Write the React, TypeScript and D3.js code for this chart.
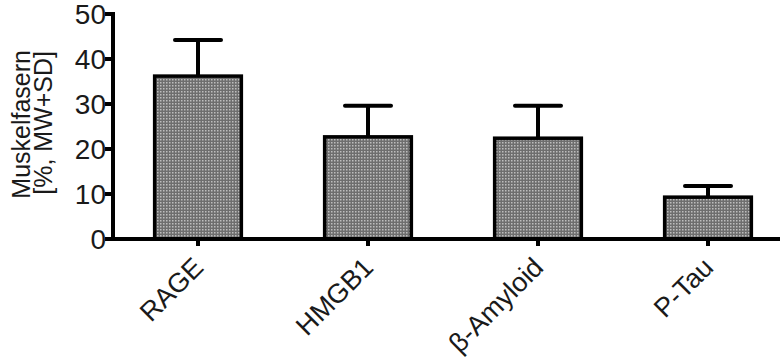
import React from "react";
import * as d3 from "d3";

const categories = ["RAGE", "HMGB1", "β-Amyloid", "P-Tau"];
const means = [36.2, 22.7, 22.4, 9.3];
const sds = [8.0, 6.9, 7.2, 2.5];
const yTicks = [0, 10, 20, 30, 40, 50];

const FONT = "'Liberation Sans', Arial, sans-serif";

export default function App() {
  const width = 780;
  const height = 358;

  const y = d3.scaleLinear().domain([0, 50]).range([239, 14]);
  const x = d3
    .scaleBand<string>()
    .domain(categories)
    .range([113, 793])
    .paddingInner(0.49)
    .paddingOuter(0.245);

  const axisX = 113;
  const axisY = y(0);

  return (
    <svg
      width={width}
      height={height}
      style={{ position: "absolute", left: 0, top: 0, background: "#fff" }}
    >
      <defs>
        <pattern id="dots" width="3" height="3" patternUnits="userSpaceOnUse">
          <rect width="3" height="3" fill="#6e6e6e" />
          <rect x="1" y="1" width="1.5" height="1.5" fill="#bdbdbd" />
        </pattern>
      </defs>

      {/* bars */}
      {categories.map((c, i) => {
        const bx = x(c)!;
        const bw = x.bandwidth();
        const top = y(means[i]);
        const cx = bx + bw / 2;
        const errTop = y(means[i] + sds[i]);
        return (
          <g key={c}>
            <line x1={cx} x2={cx} y1={top} y2={errTop} stroke="#000" strokeWidth={4} />
            <line x1={cx - 23} x2={cx + 23} y1={errTop} y2={errTop} stroke="#000" strokeWidth={4} strokeLinecap="round" />
            <rect
              x={bx}
              y={top}
              width={bw}
              height={axisY - top}
              fill="url(#dots)"
              stroke="#000"
              strokeWidth={3.5}
            />
          </g>
        );
      })}

      {/* y axis */}
      <line x1={axisX} x2={axisX} y1={y(50) - 2} y2={axisY + 2} stroke="#000" strokeWidth={4} />
      {yTicks.map((t) => (
        <g key={t}>
          <line x1={axisX - 8} x2={axisX} y1={y(t)} y2={y(t)} stroke="#000" strokeWidth={4} />
          <text
            x={axisX - 7}
            y={y(t)}
            dy="0.35em"
            textAnchor="end"
            fontFamily={FONT}
            fontSize={28}
            fill="#1a1a1a"
          >
            {t}
          </text>
        </g>
      ))}

      {/* x axis */}
      <line x1={axisX - 2} x2={width} y1={axisY} y2={axisY} stroke="#000" strokeWidth={4} />
      {categories.map((c) => {
        const cx = x(c)! + x.bandwidth() / 2;
        return (
          <g key={c}>
            <line x1={cx} x2={cx} y1={axisY} y2={axisY + 7} stroke="#000" strokeWidth={4} />
            <text
              transform={`translate(${cx + 7},${axisY + 30}) rotate(-45)`}
              textAnchor="end"
              fontFamily={FONT}
              fontSize={27}
              fill="#1a1a1a"
            >
              {c}
            </text>
          </g>
        );
      })}

      {/* y title */}
      <text
        transform="translate(30,50) rotate(-90)"
        textAnchor="end"
        fontFamily={FONT}
        fontSize={25}
        fill="#1a1a1a"
      >
        Muskelfasern
      </text>
      <text
        transform="translate(52,51) rotate(-90)"
        textAnchor="end"
        fontFamily={FONT}
        fontSize={25}
        fill="#1a1a1a"
      >
        [%, MW+SD]
      </text>
    </svg>
  );
}
